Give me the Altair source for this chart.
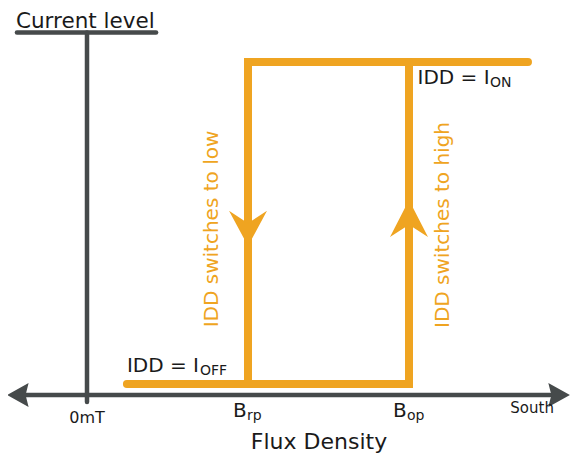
import altair as alt
import pandas as pd

# ---- semantic values (arbitrary flux units, 0mT origin; current level 0..1) ----
B_RP = 10.0      # release point
B_OP = 20.0      # operate point
I_OFF = 0.0
I_ON = 1.0

# ---- drawing extents in data units ----
X_MIN, X_MAX = -4.907, 30.062
Y_MIN, Y_MAX = -0.2205, 1.1677
AXIS_Y = -0.034
AXIS_X = [-4.16, 28.76]
ARROW_X = [-4.224, 29.25]
VAXIS_Y = [1.0916, -0.0559]
BAR_X = [-4.35, 4.29]
ON_END = 27.39
OFF_START = 2.48
ARROW_DOWN_Y = 0.4876
ARROW_UP_Y = 0.5124

# hysteresis loop
hyst_x = [ON_END, B_RP, B_RP, OFF_START, B_OP, B_OP]
hyst_y = [I_ON, I_ON, I_OFF, I_OFF, I_OFF, I_ON]
hyst_seg = ["a", "a", "a", "b", "b", "b"]
hyst_order = [0, 1, 2, 0, 1, 2]

# gray frame segments
seg_x = [AXIS_X[0], 0.0, BAR_X[0]]
seg_x2 = [AXIS_X[1], 0.0, BAR_X[1]]
seg_y = [AXIS_Y, VAXIS_Y[0], VAXIS_Y[0]]
seg_y2 = [AXIS_Y, VAXIS_Y[1], VAXIS_Y[0]]

ORANGE = "#EFA421"
GRAY = "#464A4B"
BLACK = "#1A1A1A"
FONT = "DejaVu Sans"

xs = alt.Scale(domain=[X_MIN, X_MAX], nice=False, zero=False)
ys = alt.Scale(domain=[Y_MIN, Y_MAX], nice=False, zero=False)


def X(f):
    return alt.X(f, type="quantitative", scale=xs, axis=None)


def Y(f):
    return alt.Y(f, type="quantitative", scale=ys, axis=None)


frame = alt.Chart(pd.DataFrame({"x": seg_x, "x2": seg_x2, "y": seg_y, "y2": seg_y2})).mark_rule(
    color=GRAY, strokeWidth=4.5, strokeCap="round"
).encode(x=X("x"), x2="x2", y=Y("y"), y2="y2")

ARROW_L_PATH = "M-1,0 L0.8,-1 L0.55,0 L0.8,1 Z"
ARROW_R_PATH = "M1,0 L-0.8,-1 L-0.55,0 L-0.8,1 Z"
ARROW_D_PATH = "M0,1 L-1,-0.85 L0,-0.2 L1,-0.85 Z"
ARROW_U_PATH = "M0,-1 L1,0.95 L0,0.3 L-1,0.95 Z"


def arrow(x, y, path, size, color):
    return alt.Chart(pd.DataFrame({"x": [x], "y": [y]})).mark_point(
        shape=path, size=size, filled=True, color=color, opacity=1, strokeWidth=0
    ).encode(x=X("x"), y=Y("y"))


hyst = alt.Chart(pd.DataFrame({"x": hyst_x, "y": hyst_y, "seg": hyst_seg, "o": hyst_order})).mark_line(
    color=ORANGE, strokeWidth=8, strokeCap="round", strokeJoin="miter"
).encode(x=X("x"), y=Y("y"), detail="seg:N", order="o:Q")


def label(text, x, y, **kw):
    kw.setdefault("font", FONT)
    kw.setdefault("color", BLACK)
    kw.setdefault("baseline", "alphabetic")
    return alt.Chart(pd.DataFrame({"x": [x], "y": [y], "t": [text]})).mark_text(**kw).encode(
        x=X("x"), y=Y("y"), text="t:N"
    )


labels = [
    label("Current level", BAR_X[0], VAXIS_Y[0], dx=-1, dy=-5, fontSize=21.5, align="left"),
    label("Flux Density", (B_RP + B_OP) / 2, AXIS_Y, dx=-9.5, dy=54, fontSize=22, align="center"),
    label("0mT", 0.0, AXIS_Y, dy=28, fontSize=16, align="center"),
    label("South", ARROW_X[1], AXIS_Y, dx=-4, dy=18, fontSize=15, align="right"),
    label("B", B_RP, AXIS_Y, dx=-15, dy=22, fontSize=20, align="left"),
    label("rp", B_RP, AXIS_Y, dx=-1, dy=25, fontSize=14, align="left"),
    label("B", B_OP, AXIS_Y, dx=-16, dy=22, fontSize=20, align="left"),
    label("op", B_OP, AXIS_Y, dx=-2, dy=25, fontSize=14, align="left"),
    label("IDD = I", B_OP, I_ON, dx=8.5, dy=22.5, fontSize=20, align="left"),
    label("ON", B_OP, I_ON, dx=81, dy=25.5, fontSize=14, align="left"),
    label("IDD = I", OFF_START, I_OFF, dx=0, dy=-12, fontSize=20, align="left"),
    label("OFF", OFF_START, I_OFF, dx=73, dy=-9, fontSize=14, align="left"),
    label("IDD switches to low", B_RP, 0.5, angle=270, dx=-6, dy=-36, fontSize=20,
          align="center", baseline="middle", color=ORANGE),
    label("IDD switches to high", B_OP, 0.5, angle=270, dx=-2, dy=34, fontSize=20,
          align="center", baseline="middle", color=ORANGE),
]

chart = alt.layer(
    frame,
    arrow(ARROW_X[0], AXIS_Y, ARROW_L_PATH, 576, GRAY),
    arrow(ARROW_X[1], AXIS_Y, ARROW_R_PATH, 576, GRAY),
    hyst,
    arrow(B_RP, ARROW_DOWN_Y, ARROW_D_PATH, 1444, ORANGE),
    arrow(B_OP, ARROW_UP_Y, ARROW_U_PATH, 1444, ORANGE),
    *labels,
).properties(
    width=563, height=447, padding=0, autosize=alt.AutoSizeParams(type="none")
).configure_view(stroke=None)

chart.save("out.html", embed_options={"renderer": "svg", "actions": False})
